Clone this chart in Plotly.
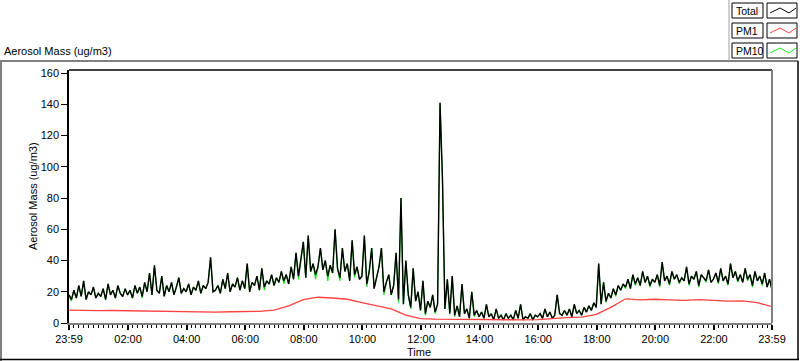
import pandas as pd
import plotly.graph_objects as go

# ---------------- data ----------------
start_time = "2000-01-01 23:59"
end_time = "2000-01-02 23:59"
sample_minutes = 5          # Total / PM10 sampled every 5 minutes
pm1_minutes = 30            # PM1 read every 30 minutes

total_values = [
    18, 15, 21, 16, 24, 17, 27, 15, 20, 18, 23, 16,
    19, 17, 22, 15, 25, 18, 21, 16, 24, 19, 17, 22,
    18, 21, 16, 24, 19, 23, 17, 26, 20, 32, 18, 37,
    21, 19, 30, 17, 24, 20, 26, 18, 23, 29, 19, 22,
    20, 25, 18, 23, 21, 27, 19, 24, 22, 26, 42, 20,
    21, 24, 19, 28, 22, 32, 20, 25, 23, 29, 21, 27,
    22, 38, 20, 26, 24, 30, 21, 35, 23, 27, 25, 31,
    24, 29, 26, 33, 27, 31, 25, 36, 28, 45, 30, 42,
    52, 29, 56, 33, 38, 31, 36, 48, 34, 40, 30, 37,
    32, 60, 35, 29, 48, 33, 38, 27, 53, 31, 36, 28,
    30, 56, 25, 33, 48, 22, 29, 36, 48, 20, 26, 31,
    18, 24, 45, 15, 80, 12, 40, 18, 10, 35, 14, 20,
    8, 27, 6, 14, 10, 18, 7, 12, 141, 92, 9, 28,
    6, 30, 5, 11, 4, 25, 6, 9, 3, 20, 5, 8,
    4, 7, 3, 12, 4, 6, 2, 9, 3, 5, 2, 6,
    3, 5, 2, 8, 3, 12, 2, 4, 3, 6, 2, 5,
    4, 6, 3, 9, 4, 7, 3, 5, 18, 6, 5, 8,
    5, 9, 4, 12, 6, 8, 5, 10, 7, 11, 8, 13,
    10, 38, 12, 26, 14, 19, 16, 22, 18, 24, 21, 25,
    23, 28, 22, 31, 25, 29, 24, 33, 26, 30, 24, 28,
    26, 31, 24, 39, 27, 30, 25, 33, 28, 31, 26, 29,
    27, 36, 25, 30, 28, 33, 24, 31, 29, 27, 34, 26,
    28, 32, 26, 35, 27, 30, 25, 38, 29, 33, 27, 31,
    26, 35, 28, 31, 24, 33, 27, 30, 25, 32, 23, 28,
    21,
]

pm10_values = [
    18, 14, 21, 16, 24, 17, 27, 15, 20, 18, 23, 16,
    19, 17, 22, 15, 25, 18, 21, 16, 24, 19, 17, 22,
    18, 21, 16, 24, 19, 23, 16, 26, 20, 32, 18, 37,
    21, 19, 30, 17, 24, 20, 26, 18, 23, 29, 19, 22,
    20, 25, 18, 23, 21, 27, 19, 24, 22, 26, 42, 20,
    21, 24, 19, 28, 22, 32, 20, 25, 23, 29, 21, 27,
    22, 38, 20, 26, 24, 30, 21, 35, 21, 27, 25, 31,
    24, 29, 26, 33, 25, 31, 25, 36, 28, 45, 28, 42,
    52, 29, 56, 33, 38, 28, 36, 48, 34, 40, 27, 37,
    32, 60, 35, 27, 48, 33, 38, 27, 53, 29, 36, 28,
    30, 56, 23, 33, 48, 22, 29, 36, 48, 18, 26, 31,
    18, 24, 45, 13, 80, 12, 40, 18, 9, 35, 14, 20,
    8, 27, 5, 14, 10, 18, 6, 12, 141, 92, 9, 28,
    6, 30, 4, 11, 4, 25, 6, 9, 3, 20, 4, 8,
    4, 7, 3, 12, 4, 6, 2, 9, 3, 5, 2, 6,
    3, 5, 2, 8, 3, 12, 2, 4, 3, 6, 2, 5,
    4, 6, 3, 9, 4, 7, 3, 5, 18, 6, 5, 8,
    5, 9, 4, 12, 6, 8, 5, 10, 7, 11, 8, 13,
    10, 38, 12, 26, 13, 19, 16, 22, 17, 24, 21, 25,
    22, 28, 22, 31, 24, 29, 24, 33, 26, 30, 23, 28,
    26, 31, 23, 39, 27, 30, 24, 33, 28, 31, 25, 29,
    27, 36, 24, 30, 28, 33, 23, 31, 29, 26, 34, 26,
    28, 32, 25, 35, 27, 30, 24, 38, 29, 33, 26, 31,
    26, 35, 27, 31, 23, 33, 27, 30, 24, 32, 23, 28,
    21,
]

pm1_values = [
    8.3, 8.0, 7.9, 8.0, 7.8, 7.9, 7.8, 7.5, 7.2, 7.0, 7.0, 7.2,
    7.3, 7.5, 8.2, 11.0, 15.0, 16.5, 16.0, 15.2, 13.0, 11.0, 9.0, 5.0,
    2.8, 2.5, 2.4, 2.3, 2.0, 1.8, 1.8, 2.0, 2.2, 3.0, 3.5, 3.8,
    5.5, 10.0, 15.5, 14.8, 15.2, 14.8, 14.5, 15.0, 14.6, 14.0, 14.2, 13.0,
    10.5,
]

tick_times = ["2000-01-01 23:59", "2000-01-02 02:00", "2000-01-02 04:00",
              "2000-01-02 06:00", "2000-01-02 08:00", "2000-01-02 10:00",
              "2000-01-02 12:00", "2000-01-02 14:00", "2000-01-02 16:00",
              "2000-01-02 18:00", "2000-01-02 20:00", "2000-01-02 22:00",
              "2000-01-02 23:59"]
tick_labels = ["23:59", "02:00", "04:00", "06:00", "08:00", "10:00", "12:00",
               "14:00", "16:00", "18:00", "20:00", "22:00", "23:59"]
y_ticks = [0, 20, 40, 60, 80, 100, 120, 140, 160]

times = pd.date_range(start_time, periods=len(total_values), freq=f"{sample_minutes}min")
pm1_times = pd.date_range(start_time, periods=len(pm1_values), freq=f"{pm1_minutes}min")

# ---------------- layout geometry ----------------
W, H = 800, 361
L, T, PW, PH = 69, 70, 703, 253
R = W - L - PW
B = H - T - PH
FONT = "Liberation Sans"


def px(x):
    return (x - L) / PW


def py(y):
    return (T + PH - y) / PH


fig = go.Figure()
fig.add_trace(go.Scatter(x=times, y=pm10_values, mode="lines", name="PM10",
                         line=dict(color="#19e619", width=1.2)))
fig.add_trace(go.Scatter(x=times, y=total_values, mode="lines", name="Total",
                         line=dict(color="black", width=1.4)))
fig.add_trace(go.Scatter(x=pm1_times, y=pm1_values, mode="lines", name="PM1",
                         line=dict(color="#ff4040", width=1.3)))

shapes = []


def line(x0, y0, x1, y1, color, width=1):
    shapes.append(dict(type="line", xref="paper", yref="paper",
                       x0=px(x0), y0=py(y0), x1=px(x1), y1=py(y1),
                       line=dict(color=color, width=width)))


def rect(x0, y0, x1, y1, color="black", width=1):
    shapes.append(dict(type="rect", xref="paper", yref="paper",
                       x0=px(x0), y0=py(y0), x1=px(x1), y1=py(y1),
                       line=dict(color=color, width=width), fillcolor="white"))


# plot-area frame: black top, gray right
line(L, T, L + PW, T, "black", 1.5)
line(L + PW, T, L + PW, T + PH, "#808080", 2)
# outer panel frame
line(0, 61, 729, 61, "#808080", 2)
line(729, 61, 798, 61, "#808080", 2)
line(729, 0, 729, 61, "#a0a0a0", 1)
line(1, 61, 1, 361, "#808080", 2)
line(0, 359.5, 799, 359.5, "black", 1.5)
line(798, 61, 798, 360, "black", 1.5)

annotations = []
legend_rows = [("Total", "black", 3), ("PM1", "#ff4040", 23), ("PM10", "#19e619", 43)]
for name, color, top in legend_rows:
    rect(732, top, 763, top + 15)
    rect(767, top, 797, top + 15)
    shapes.append(dict(type="path", xref="paper", yref="paper",
                       path=(f"M {px(770)},{py(top + 10)} L {px(780)},{py(top + 5)} "
                             f"L {px(789)},{py(top + 10)} L {px(796)},{py(top + 5)}"),
                       line=dict(color=color, width=1)))
    annotations.append(dict(xref="paper", yref="paper", x=px(733.5), y=py(top + 7.8),
                            text=name, showarrow=False, xanchor="left", yanchor="middle",
                            font=dict(family=FONT, size=10.5, color="black")))

annotations += [
    dict(xref="paper", yref="paper", x=px(2), y=py(51), text="Aerosol Mass (ug/m3)",
         showarrow=False, xanchor="left", yanchor="middle",
         font=dict(family=FONT, size=11, color="black")),
    dict(xref="paper", yref="paper", x=px(33), y=py(196), text="Aerosol Mass (ug/m3)",
         showarrow=False, textangle=-90, xanchor="center", yanchor="middle",
         font=dict(family=FONT, size=11, color="black")),
    dict(xref="paper", yref="paper", x=px(419), y=py(352), text="Time",
         showarrow=False, xanchor="center", yanchor="middle",
         font=dict(family=FONT, size=11, color="black")),
]

fig.update_layout(
    width=W, height=H,
    margin=dict(l=L, r=R, t=T, b=B, pad=0),
    paper_bgcolor="white", plot_bgcolor="white",
    showlegend=False,
    font=dict(family=FONT, size=11, color="black"),
    shapes=shapes, annotations=annotations,
    xaxis=dict(
        type="date", range=[start_time, end_time],
        tickmode="array", tickvals=tick_times, ticktext=tick_labels,
        ticks="outside", ticklen=5, tickwidth=1.5, tickcolor="black",
        showgrid=False, zeroline=False,
        showline=True, linecolor="#808080", linewidth=2,
        tickfont=dict(family=FONT, size=11, color="black"),
        minor=dict(tickmode="linear", tick0=start_time, dtick=10 * 60 * 1000,
                   ticks="outside", ticklen=3, tickwidth=1, tickcolor="black",
                   showgrid=False),
    ),
    yaxis=dict(
        range=[0, 162], tickmode="array", tickvals=y_ticks,
        ticks="outside", ticklen=6, tickwidth=1, tickcolor="black",
        showgrid=False, zeroline=False,
        showline=True, linecolor="black", linewidth=1.5,
        tickfont=dict(family=FONT, size=11, color="black"),
    ),
)

fig.write_html("out.html", config={"displayModeBar": False},
               post_script="document.body.style.margin='0';document.body.style.overflow='hidden';")
